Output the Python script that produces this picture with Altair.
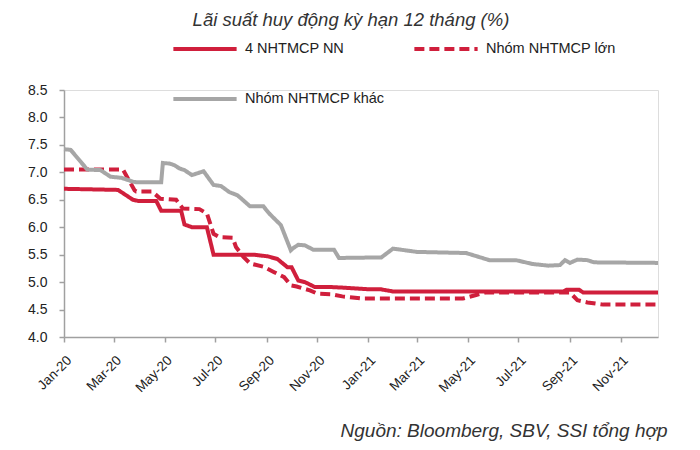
import altair as alt
import pandas as pd

FONT = "Liberation Sans"

names = ["4 NHTMCP NN", "Nhóm NHTMCP lớn", "Nhóm NHTMCP khác"]
legend_order = ["4 NHTMCP NN", "Nhóm NHTMCP khác", "Nhóm NHTMCP lớn"]

nn_dates = ["2020-01-01", "2020-03-06", "2020-03-16", "2020-03-24", "2020-03-30", "2020-04-21",
            "2020-04-27", "2020-05-21", "2020-05-25", "2020-06-03", "2020-06-21", "2020-06-29",
            "2020-08-16", "2020-09-02", "2020-09-14", "2020-09-26", "2020-10-01", "2020-10-09",
            "2020-10-17", "2020-10-29", "2020-11-17", "2020-12-01", "2021-01-01", "2021-01-16",
            "2021-01-31", "2021-08-24", "2021-08-28", "2021-09-12", "2021-09-17", "2021-12-16"]
nn_values = [6.70, 6.68, 6.58, 6.50, 6.48, 6.48,
             6.30, 6.30, 6.05, 6.00, 6.00, 5.50,
             5.50, 5.47, 5.42, 5.27, 5.27, 5.03,
             5.00, 4.91, 4.91, 4.90, 4.87, 4.87,
             4.83, 4.83, 4.86, 4.86, 4.81, 4.81]

lon_dates = ["2020-01-01", "2020-03-12", "2020-03-26", "2020-03-28", "2020-04-16", "2020-04-26",
             "2020-05-15", "2020-05-23", "2020-06-12", "2020-06-21", "2020-06-29", "2020-07-06",
             "2020-07-22", "2020-07-26", "2020-08-04", "2020-08-12", "2020-08-28", "2020-09-10",
             "2020-09-22", "2020-09-30", "2020-10-07", "2020-10-23", "2020-11-01", "2020-11-17",
             "2020-12-01", "2020-12-27", "2021-04-25", "2021-05-10", "2021-05-22", "2021-09-01",
             "2021-09-10", "2021-09-22", "2021-10-11", "2021-12-16"]
lon_values = [7.05, 7.05, 6.67, 6.65, 6.65, 6.52,
              6.50, 6.34, 6.33, 6.25, 5.88, 5.82,
              5.81, 5.64, 5.46, 5.34, 5.28, 5.18,
              5.09, 4.94, 4.92, 4.85, 4.79, 4.78,
              4.74, 4.70, 4.70, 4.76, 4.81, 4.81,
              4.67, 4.63, 4.59, 4.59]

khac_dates = ["2020-01-01", "2020-01-09", "2020-01-29", "2020-02-14", "2020-02-26", "2020-03-10",
              "2020-03-24", "2020-03-28", "2020-04-27", "2020-04-29", "2020-05-07", "2020-05-13",
              "2020-05-19", "2020-05-25", "2020-06-03", "2020-06-17", "2020-06-29", "2020-07-08",
              "2020-07-18", "2020-07-28", "2020-08-12", "2020-08-28", "2020-09-04", "2020-09-18",
              "2020-09-30", "2020-10-03", "2020-10-09", "2020-10-17", "2020-10-27", "2020-11-21",
              "2020-11-27", "2021-01-17", "2021-01-31", "2021-03-01", "2021-04-29", "2021-05-27",
              "2021-06-28", "2021-07-18", "2021-08-06", "2021-08-20", "2021-08-26", "2021-09-01",
              "2021-09-10", "2021-09-22", "2021-09-30", "2021-12-16"]
khac_values = [7.42, 7.41, 7.05, 7.04, 6.92, 6.90,
               6.83, 6.82, 6.82, 7.17, 7.16, 7.13,
               7.07, 7.04, 6.95, 7.02, 6.77, 6.75,
               6.64, 6.58, 6.38, 6.38, 6.25, 6.04,
               5.58, 5.62, 5.68, 5.67, 5.59, 5.59,
               5.44, 5.45, 5.61, 5.55, 5.53, 5.40,
               5.40, 5.33, 5.30, 5.31, 5.40, 5.35,
               5.41, 5.40, 5.36, 5.35]

y_ticks = [4.0, 4.5, 5.0, 5.5, 6.0, 6.5, 7.0, 7.5, 8.0, 8.5]
x_tick_months = [(2020, 1), (2020, 3), (2020, 5), (2020, 7), (2020, 9), (2020, 11),
                 (2021, 1), (2021, 3), (2021, 5), (2021, 7), (2021, 9), (2021, 11)]

title_text = "Lãi suất huy động kỳ hạn 12 tháng (%)"
source_text = "Nguồn:  Bloomberg, SBV, SSI tổng hợp"

RED = "#d01f3c"
GRAY = "#a6a6a6"
AXIS = "#a0a0a0"
TEXT = "#222222"

rows = []
for nm, ds, vs in [(names[0], nn_dates, nn_values), (names[1], lon_dates, lon_values),
                   (names[2], khac_dates, khac_values)]:
    for d, v in zip(ds, vs):
        rows.append({"date": d, "value": v, "series": nm})
df = pd.DataFrame(rows)

legend_cfg = dict(
    title=None, orient="none", legendX=107, legendY=-75, columns=2, values=legend_order,
    columnPadding=21, rowPadding=8, symbolType="stroke", symbolSize=4000,
    symbolStrokeWidth=4, labelFontSize=14.5, labelFont=FONT, labelColor=TEXT,
    labelOffset=6, labelLimit=300,
)

x_vals = [alt.DateTime(year=y, month=m, date=1, utc=True) for y, m in x_tick_months]

chart = alt.Chart(df).mark_line(strokeWidth=4).encode(
    x=alt.X("date:T",
            scale=alt.Scale(type="utc", domain=[alt.DateTime(year=2020, month=1, date=1, utc=True),
                                                 alt.DateTime(year=2021, month=12, date=16, utc=True)]),
            axis=alt.Axis(values=x_vals, format="%b-%y", labelAngle=-45, labelFontSize=13.5,
                          labelFont=FONT, labelColor=TEXT, tickSize=5, labelPadding=11,
                          domainColor=AXIS, tickColor=AXIS, domainWidth=1.5, tickWidth=1.5,
                          grid=False, labelOverlap=False,
                          title=source_text, titleFont=FONT, titleFontSize=19,
                          titleFontStyle="italic", titleFontWeight="normal", titleColor="#333333",
                          titleX=603, titleY=99, titleAlign="right", titleBaseline="alphabetic",
                          titleAngle=0)),
    y=alt.Y("value:Q",
            scale=alt.Scale(domain=[4.0, 8.5], nice=False, zero=False),
            axis=alt.Axis(values=y_ticks, format=".1f", labelFontSize=14, labelFont=FONT,
                          labelColor=TEXT, tickSize=5, labelPadding=12,
                          domainColor=AXIS, tickColor=AXIS, domainWidth=1.5, tickWidth=1.5,
                          grid=False, title=None)),
    color=alt.Color("series:N", scale=alt.Scale(domain=names, range=[RED, RED, GRAY]),
                    legend=alt.Legend(**legend_cfg)),
    strokeDash=alt.StrokeDash("series:N", scale=alt.Scale(domain=names, range=[[1, 0], [10, 5], [1, 0]]),
                              legend=alt.Legend(**legend_cfg)),
).properties(
    width=594, height=247,
    title=alt.TitleParams(title_text, font=FONT, fontSize=18.5, fontStyle="italic",
                          fontWeight="normal", color="#333333", anchor="middle",
                          frame="group", offset=0, dx=-10, dy=14),
    autosize=alt.AutoSizeParams(type="none"),
    padding={"left": 56, "top": 82, "right": 26, "bottom": 110},
).configure_view(stroke=None).configure(font=FONT, background="white")

chart.save("out.html", embed_options={"renderer": "svg", "actions": False})
